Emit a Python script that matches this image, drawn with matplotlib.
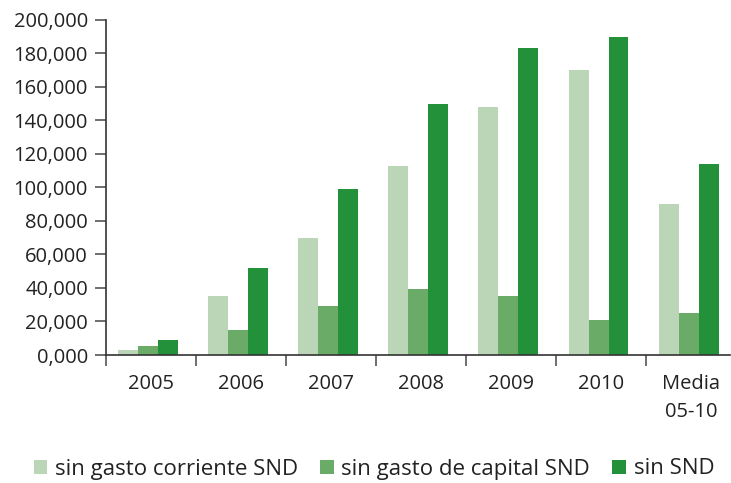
import matplotlib.pyplot as plt
import numpy as np
from matplotlib.ticker import FuncFormatter

plt.rcParams['font.family'] = ['Open Sans', 'DejaVu Sans']

categorias = ['2005', '2006', '2007', '2008', '2009', '2010', 'Media\n05-10']
sin_gasto_corriente = [3000, 35000, 70000, 113000, 148000, 170000, 90000]
sin_gasto_capital = [5500, 15000, 29500, 39500, 35000, 21000, 25000]
sin_snd = [9000, 52000, 99000, 149500, 183000, 190000, 114000]

series = ['sin gasto corriente SND', 'sin gasto de capital SND', 'sin SND']
colores = ['#bad6b6', '#6aab67', '#23903a']

fig = plt.figure(figsize=(7.31, 4.83), dpi=100)
ax = fig.add_axes([0.145, 0.265, 0.854, 0.694])

x = np.arange(len(categorias))
w = 0.222
for k, (vals, col, lab) in enumerate(zip([sin_gasto_corriente, sin_gasto_capital, sin_snd], colores, series)):
    ax.bar(x + (k - 1) * w - 0.03, vals, width=w, color=col, label=lab)

ax.set_xlim(-0.5, -0.5 + 624 / 90)
ax.set_ylim(0, 200000)
ax.set_yticks(np.arange(0, 200001, 20000))
ax.yaxis.set_major_formatter(FuncFormatter(lambda v, p: '0,000' if v == 0 else f'{int(v):,}'))
ax.set_xticks(x)
ax.set_xticklabels(categorias, linespacing=1.5)
ax.set_xticks(np.arange(-0.5, 6, 1), minor=True)

for s in ['top', 'right']:
    ax.spines[s].set_visible(False)
for s in ['left', 'bottom']:
    ax.spines[s].set_color('#333333')
    ax.spines[s].set_linewidth(1.2)

ax.tick_params(axis='x', which='major', length=0, pad=14, labelsize=14.5, labelcolor='#222222')
ax.tick_params(axis='x', which='minor', length=8, width=1.2, color='#555555')
ax.tick_params(axis='y', length=8, width=1.2, color='#555555', pad=5, labelsize=14.5, labelcolor='#222222')

fig.legend(loc='center', bbox_to_anchor=(374 / 731, 1 - 469 / 483), ncol=3, frameon=False,
           fontsize=16, handlelength=0.6, handleheight=0.6, handletextpad=0.35,
           columnspacing=1.0, labelcolor='#222222')

fig.savefig('out.png', dpi=100)
